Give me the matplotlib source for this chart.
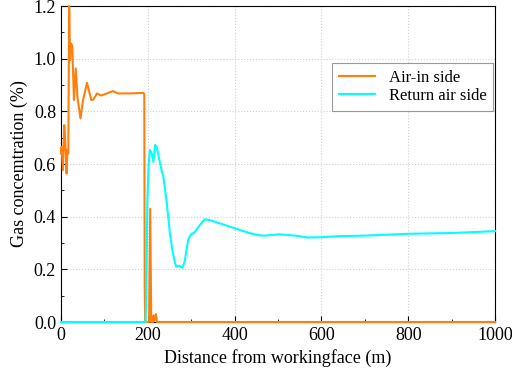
import matplotlib.pyplot as plt
import numpy as np

plt.rcParams['font.family'] = ['Liberation Serif', 'DejaVu Serif']

# Air-in side
air_in_x = [0, 1.5, 4.6, 7.6, 10, 13, 15, 17, 19, 21, 23, 26, 30, 34, 38, 45, 51, 60,
            70, 75, 83, 93, 120, 131, 160, 190, 192, 193, 194, 203, 205.7, 208, 212,
            213.5, 215, 217, 219, 221, 1000]
air_in_y = [0.64, 0.665, 0.577, 0.748, 0.69, 0.564, 0.653, 0.64, 1.2, 0.994, 1.057, 1.05,
            0.843, 0.963, 0.855, 0.773, 0.843, 0.908, 0.843, 0.845, 0.868, 0.86, 0.877,
            0.868, 0.868, 0.870, 0.865, 0.14, 0.0, 0.0, 0.43, 0.0, 0.0, 0.025, 0.005,
            0.02, 0.03, 0.0, 0.0]

# Return air side
return_x = [0, 195, 197, 199, 202, 205, 209, 213, 217, 220.6, 225, 230, 236, 244, 251,
            257, 263, 266, 274, 280, 285, 293, 298, 309, 320, 331, 343, 389, 432, 453,
            470, 503, 540, 567, 600, 640, 700, 800, 900, 1000]
return_y = [0.0, 0.0, 0.15, 0.46, 0.6, 0.653, 0.64, 0.608, 0.672, 0.665, 0.63, 0.59,
            0.551, 0.45, 0.337, 0.27, 0.223, 0.21, 0.213, 0.206, 0.23, 0.311, 0.33,
            0.343, 0.368, 0.39, 0.387, 0.362, 0.339, 0.33, 0.328, 0.333, 0.328, 0.321,
            0.322, 0.326, 0.328, 0.335, 0.338, 0.345]

fig = plt.figure(figsize=(5.12, 3.76), dpi=100)
ax = fig.add_axes([0.119, 0.1436, 0.848, 0.8404])

ax.plot(air_in_x, air_in_y, color='#FF7F0E', lw=1.5, label='Air-in side',
        clip_on=False, zorder=3)
ax.plot(return_x, return_y, color='#00FFFF', lw=1.5, label='Return air side',
        clip_on=False, zorder=3)

ax.set_xlim(0, 1000)
ax.set_ylim(0, 1.2)
ax.set_xticks(np.arange(0, 1001, 200))
ax.set_xticks(np.arange(0, 1001, 100), minor=True)
ax.set_yticks(np.arange(0, 1.21, 0.2))
ax.set_yticks(np.arange(0, 1.21, 0.1), minor=True)
ax.yaxis.set_major_formatter(plt.FormatStrFormatter('%.1f'))
ax.tick_params(which='both', direction='in', labelsize=13)
ax.tick_params(which='major', length=4)
ax.tick_params(which='minor', length=2.5)
ax.grid(True, which='major', linestyle=':', color='#d0d0d0', lw=0.8)

ax.set_xlabel('Distance from workingface (m)', fontsize=13)
ax.set_ylabel('Gas concemtration (%)', fontsize=13)

leg = ax.legend(loc='upper right', bbox_to_anchor=(0.995, 0.82), fontsize=12,
                fancybox=False, edgecolor='#808080', handlelength=2.2,
                borderpad=0.4, labelspacing=0.15, borderaxespad=0)
leg.get_frame().set_linewidth(0.8)

fig.savefig('out.png', dpi=100)
